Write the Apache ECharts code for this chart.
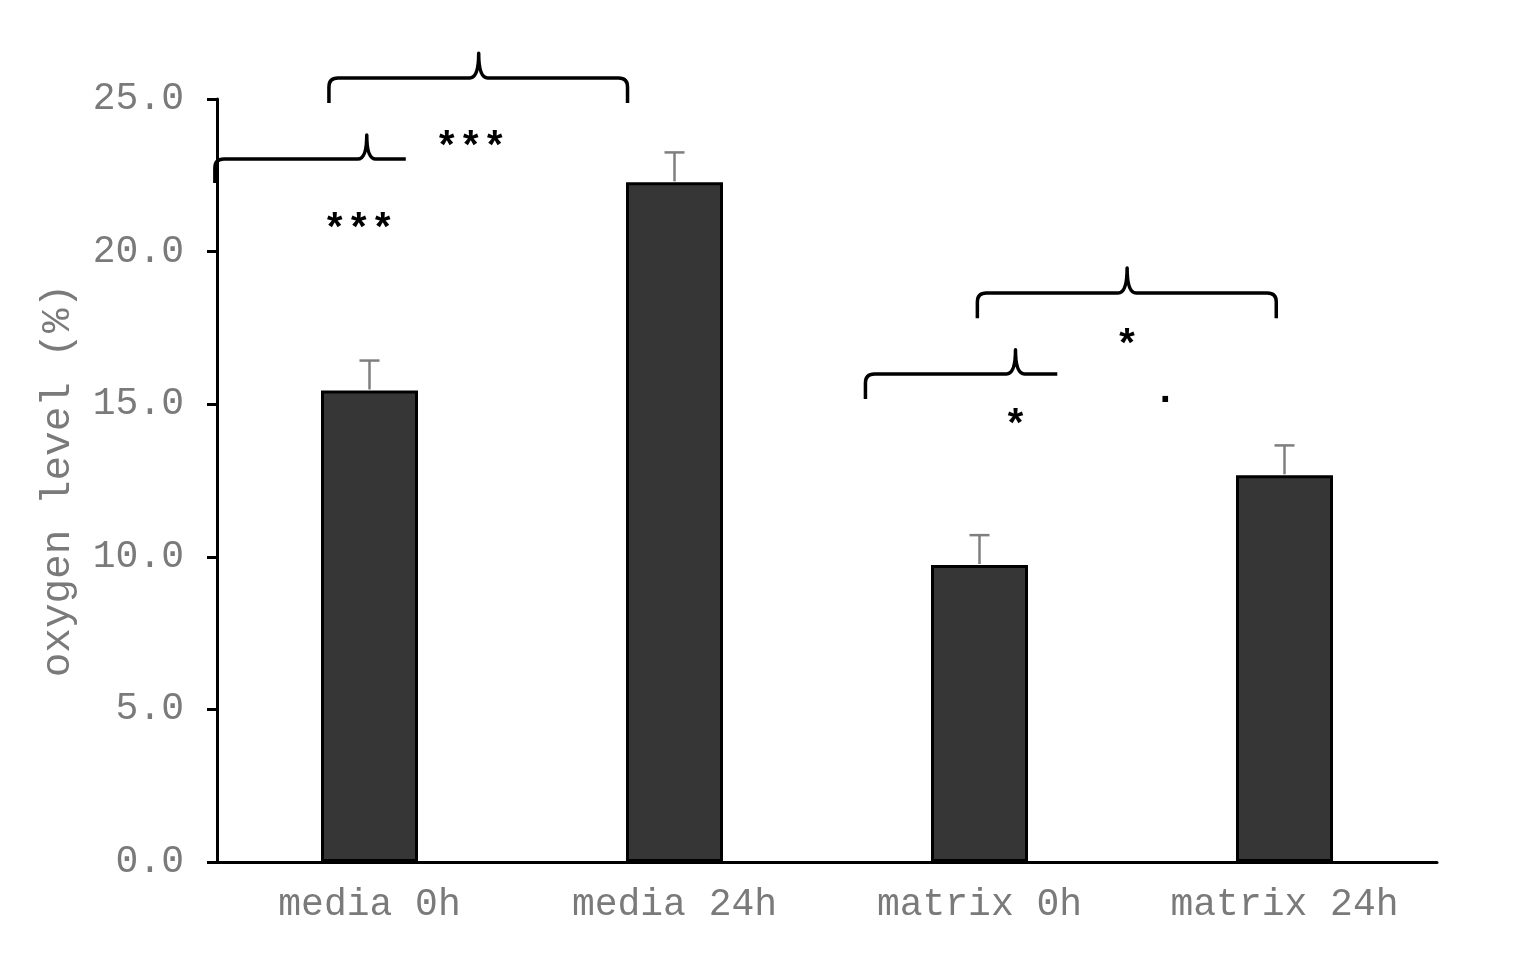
<!DOCTYPE html>
<html>
<head>
<meta charset="utf-8">
<script src="https://cdn.jsdelivr.net/npm/echarts@6/dist/echarts.min.js"></script>
<style>
html,body{margin:0;padding:0;background:#fff;}
#chart{width:1517px;height:972px;}
</style>
</head>
<body>
<div id="chart"></div>
<script>
// ---- data ----
const categories = ['media 0h', 'media 24h', 'matrix 0h', 'matrix 24h'];
const oxygenMean = [15.45, 22.27, 9.73, 12.67];
const oxygenErr = [0.98, 0.98, 0.98, 0.98];
const yTicks = [0, 5, 10, 15, 20, 25];
// brackets: [leftX, rightX, peakX, lineY, endY, peakY, leftEnd, rightEnd] in category-index / value units
const brackets = [
  [-0.133, 0.846, 0.358, 25.69, 24.87, 26.50, 1, 1],
  [-0.507, 0.119, -0.009, 23.03, 22.25, 23.82, 1, 0],
  [1.993, 2.973, 2.484, 18.64, 17.82, 19.46, 1, 1],
  [1.626, 2.255, 2.118, 15.99, 15.17, 16.78, 1, 0]
];
// significance marks: [x, y, text]
const marks = [
  [0.332, 23.33, '***'],
  [-0.035, 20.64, '***'],
  [2.484, 16.84, '*'],
  [2.118, 14.22, '*'],
  [2.609, 15.4, '.']
];

const chart = echarts.init(document.getElementById('chart'));
const mono = '"Liberation Mono", "Courier New", monospace';
const grey = '#7a7a7a';

function bracketPath(api, d) {
  const L = api.coord([d[0], d[3]]);
  const R = api.coord([d[1], d[3]]);
  const P = api.coord([d[2], d[5]]);
  const E = api.coord([d[0], d[4]]);
  const h = L[1], e = E[1], t = P[1], a = L[0], b = R[0], p = P[0];
  const r = 9, w = 9;
  let s = '';
  if (d[6]) { s += 'M' + a + ' ' + e + ' L' + a + ' ' + (h + r) + ' Q' + a + ' ' + h + ' ' + (a + r) + ' ' + h; }
  else { s += 'M' + a + ' ' + h; }
  s += ' L' + (p - w) + ' ' + h + ' Q' + p + ' ' + h + ' ' + p + ' ' + t;
  s += ' Q' + p + ' ' + h + ' ' + (p + w) + ' ' + h;
  if (d[7]) { s += ' L' + (b - r) + ' ' + h + ' Q' + b + ' ' + h + ' ' + b + ' ' + (h + r) + ' L' + b + ' ' + e; }
  else { s += ' L' + b + ' ' + h; }
  return s;
}

chart.setOption({
  animation: false,
  backgroundColor: '#fff',
  grid: { left: 217, right: 80, top: 99, bottom: 110, containLabel: false },
  xAxis: [{
    type: 'category',
    data: categories,
    axisLine: { lineStyle: { color: '#000', width: 3 } },
    axisTick: { show: false },
    axisLabel: { color: grey, fontFamily: mono, fontSize: 38, margin: 24 },
    splitLine: { show: false }
  }, {
    type: 'value', min: -0.5, max: 3.5, show: false,
    axisLine: { onZero: false }
  }],
  yAxis: {
    type: 'value',
    min: yTicks[0], max: yTicks[yTicks.length - 1], interval: 5,
    name: 'oxygen level (%)',
    nameLocation: 'middle',
    nameGap: 138,
    nameTextStyle: { color: grey, fontFamily: mono, fontSize: 41 },
    axisLine: { show: true, onZero: false, lineStyle: { color: '#000', width: 3 } },
    axisTick: { show: true, length: 10, lineStyle: { color: '#000', width: 3 } },
    axisLabel: { color: grey, fontFamily: mono, fontSize: 38, margin: 33, formatter: v => v.toFixed(1) },
    splitLine: { show: false }
  },
  series: [{
    type: 'bar',
    data: oxygenMean,
    barWidth: 97,
    itemStyle: { color: '#363636', borderColor: '#000', borderWidth: 3 },
    z: 2
  }, {
    type: 'custom',
    data: oxygenMean.map((v, i) => [i, v, oxygenErr[i]]),
    z: 3,
    renderItem: (params, api) => {
      const base = api.coord([api.value(0), api.value(1)]);
      const top = api.coord([api.value(0), api.value(1) + api.value(2)]);
      const st = { stroke: '#7f7f7f', lineWidth: 2.5 };
      return { type: 'group', children: [
        { type: 'line', shape: { x1: base[0], y1: base[1] - 1, x2: top[0], y2: top[1] }, style: st },
        { type: 'line', shape: { x1: top[0] - 10, y1: top[1], x2: top[0] + 10, y2: top[1] }, style: st }
      ]};
    }
  }, {
    type: 'custom',
    xAxisIndex: 1,
    clip: false,
    data: brackets,
    z: 4,
    renderItem: (params, api) => {
      const d = brackets[params.dataIndex];
      return { type: 'path', shape: { pathData: bracketPath(api, d) },
        style: { stroke: '#000', lineWidth: 3.5, fill: null, lineJoin: 'round' } };
    }
  }, {
    type: 'custom',
    xAxisIndex: 1,
    clip: false,
    data: marks.map(m => [m[0], m[1]]),
    z: 4,
    renderItem: (params, api) => {
      const m = marks[params.dataIndex];
      const c = api.coord([m[0], m[1]]);
      return { type: 'text', x: c[0], y: c[1],
        style: { text: m[2], fill: '#000', font: 'bold 40px "Liberation Mono", monospace',
          align: 'center', verticalAlign: 'middle' } };
    }
  }]
});
</script>
</body>
</html>
